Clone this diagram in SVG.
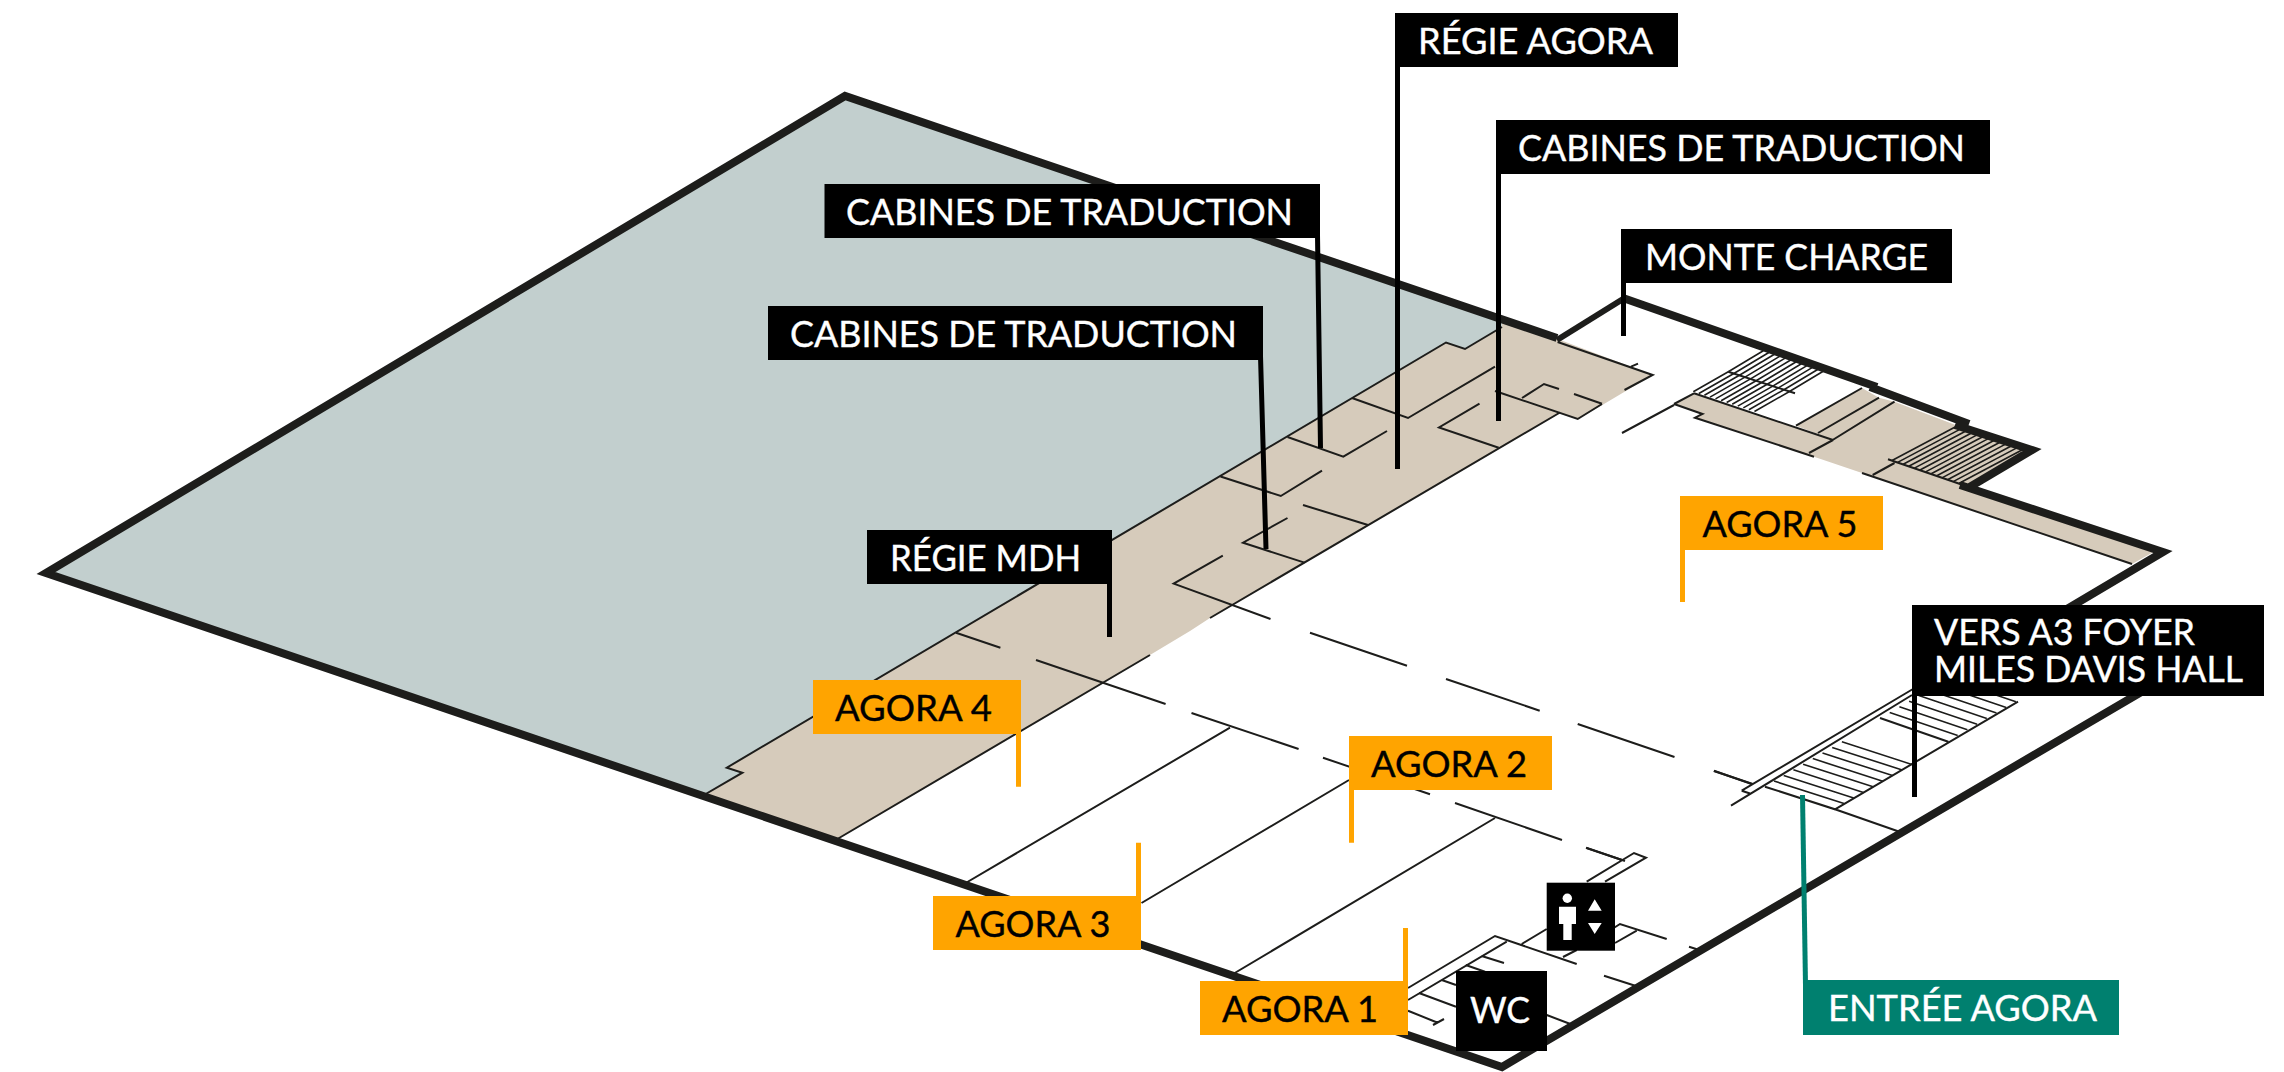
<svg xmlns="http://www.w3.org/2000/svg" width="2284" height="1072" viewBox="0 0 2284 1072">
<style>
.t{font-family:"Lato","Liberation Sans",sans-serif;font-size:36.5px;font-weight:400;stroke-width:.4}
.w{fill:#fff;stroke:#fff}.b{fill:#000;stroke:#000}
.k{fill:#000}.o{fill:#ffa400}.g{fill:#00806f}
.l{fill:none;stroke:#1d1d1b;stroke-width:2}
.h{fill:none;stroke:#1d1d1b;stroke-width:1.6}
.wall{fill:none;stroke:#1d1d1b;stroke-width:8;stroke-linejoin:miter;stroke-miterlimit:10}
.wall2{fill:none;stroke:#1d1d1b;stroke-width:6}
.pk{stroke:#000;stroke-width:5;fill:none}.po{stroke:#ffa400;stroke-width:5;fill:none}.pg{stroke:#00806f;stroke-width:5;fill:none}
</style>
<rect width="2284" height="1072" fill="#fff"/>
<g id="floor">
<polygon fill="#c2cfce" points="845,96 46,573 704,795 742.4,772.7 726.8,767.7 1446,342.5 1465,349 1502,327 1510,320"/>
<polygon fill="#d6cbbb" points="704,795 742.4,772.7 726.8,767.7 1446,342.5 1465,349 1502,327 1502,320 1557.6,339 1652.7,375 1604,404 1577.7,419 1560,412.5 1210,618 1190,631 1150,655 834,841"/>
<polygon fill="#d6cbbb" points="1674,404 1694,393.3 1833,440 1796,425.7 1862,388 1879,397.7 1894.5,401.7 1955.6,425 2030,450 1968,487 2154,551.7 2132,564 1862,473 1814,456.7 1695,417.7 1702.5,414"/>
<polygon fill="#fff" points="1694,393.3 1728,371 1766,351 1862,388 1796,425.7"/>
<g class="l">
<path d="M1502,327 1465,349 1446,342.5 726.8,767.7 742.4,772.7 704,795"/>
<path d="M1560,412.5 1210,618M1150,655 834,841"/>
<path d="M1557.6,342 1652.7,375 1624.5,390M1631,366.6 1638,363.6"/>
<path d="M1602,404 1577.7,419 1495,391"/>
<path d="M1522,398 1544,384 1559,389M1574,394 1602,403.7"/>
<path d="M1352,398 1408,418 1495,366.6"/>
<path d="M1287.5,437 1343.3,456.6 1387,431"/>
<path d="M1220.5,476.5 1280.8,496 1322,470.7"/>
<path d="M1303,505 1368,525"/>
<path d="M1287.5,518 1243,542.7 1304.5,562.6"/>
<path d="M1222.8,555.7 1173.7,583.6 1270.5,619"/>
<path d="M1479.5,403.7 1439,427.5 1498.7,447.8"/>
<path d="M956,632.7 1000.4,647.7M1036,660 1165.6,704M1191.5,713 1298.6,749M1323,757.7 1430,794.3M1455,803 1562,840M1586.6,848 1622,860"/>
<path d="M1310,632.7 1407,665.7M1446,679 1539.7,710.7M1577.7,724 1674.5,757M1713.8,771 1752.7,784"/>
<path d="M1230,727.7 964,884M1349,780 1141.5,903M1495,818 1228,977"/>
<path d="M1586.7,881.7 1634,853 1646,857.7 1605,881.7M1586,847.7 1625,861"/>
<path d="M1408,988 1495,936 1576.7,964M1408,1000 1506.7,941.7M1521.7,944 1546.7,929M1563,957 1576.7,950"/>
<path d="M1600,936.7 1620,924 1666.7,939M1636.7,930.7 1615,943M1689,946.7 1701.7,950.7"/>
<path d="M1604,975.7 1638.3,986.7M1546.7,1015 1573,1025M1546,1038 1550,1040"/>
<path d="M1481.7,956 1504,963M1465.7,965 1485,971.7M1441.7,980 1456,985M1419,993 1456,1006.7M1408,1010.7 1438.3,1023M1433,1025 1444,1019"/>
<path d="M1694,393.3 1833,440M1728.3,371.7 1795,393.3M1674,404 1694,393.3M1674,404 1702.5,414 1695,417.7 1814,456.7M1674,405 1622,433"/>
<path d="M1796,425.7 1862,388M1818,433 1879,397.7M1831,441 1894.5,401.7M1833,440 1809,453"/>
<path d="M1888,459.3 1963,485M1894.5,463 1872.7,475M1862,473 2132,564"/>
<path d="M1741.7,790.7 1913,689M1741.7,790.7 1750,793.5M1731,805.7 1912,695M1714,770.7 1751.7,784"/>
<path d="M1765,786.7 1835,809.3 2018,701.7M1835,809.3 1903,833M1880,718 1948.3,741.7"/>
</g>
<path class="h" d="M1728.3,371.7l35-21m-29.44 22.8l35-21m-29.44 22.8l35-21m-29.44 22.8l35-21m-29.44 22.8l35-21m-29.44 22.8l35-21m-29.44 22.8l35-21m-29.44 22.8l35-21m-29.44 22.8l35-21m-29.44 22.8l35-21m-29.44 22.8l35-21m-29.44 22.8l35-21"/>
<path class="h" d="M1693.3,391.7l35-20m-29.44 21.8l35-20m-29.44 21.8l35-20m-29.44 21.8l35-20m-29.44 21.8l35-20m-29.44 21.8l35-20m-29.44 21.8l35-20m-29.44 21.8l35-20m-29.44 21.8l35-20m-29.44 21.8l35-20m-29.44 21.8l35-20m-29.44 21.8l35-20"/>
<path class="h" d="M1892,460.5l66-35m-60.4 36.9l66-35m-60.4 36.9l66-35m-60.4 36.9l66-35m-60.4 36.9l66-35m-60.4 36.9l66-35m-60.4 36.9l66-35m-60.4 36.9l66-35m-60.4 36.9l66-35m-60.4 36.9l66-35m-60.4 36.9l66-35m-60.4 36.9l66-35m-60.4 36.9l66-35"/>
<path class="h" d="M1774,781l70,22.6m-60.3-28.2l70,22.6m-60.3-28.2l70,22.6m-60.3-28.2l70,22.6m-60.3-28.2l70,22.6m-60.3-28.2l70,22.6m-60.3-28.2l70,22.6m-60.3-28.2l70,22.6"/>
<path class="h" d="M1889.7,712.4l68,23m-58.3-28.6l68,23m-58.3-28.6l68,23m-58.3-28.6l68,23m-58.3-28.6l68,23m-58.3-28.6l68,23m-58.3-28.6l68,23"/>
<path class="wall" d="M1557,338 845,96 46,573 1502,1067 2172,674"/>
<path class="wall2" d="M1557,340 1623,299"/>
<path class="wall" d="M1623,298 1877,387M1870,387 1969,424M1955,425 2032,450 1968,488M1960,485 2163,552 2040,625"/>
</g>
<g id="connectors">
<path class="pk" d="M1397.5,60V469M1498.5,170V421M1623.5,280V336M1317.5,235 1320.5,448M1260.5,356 1266,549M1109.5,580V637M1914.5,690V797"/>
<path class="po" d="M1018.5,730V786.7M1138.5,842.7V900M1351.5,786V842.7M1405.5,928V985M1682.5,546V602"/>
<path class="pg" d="M1802.5,795 1805.5,985"/>
</g>
<g id="regie-agora"><rect class="k" x="1395" y="13" width="283" height="54"/><text class="t w" x="1418" y="53.6" textLength="235" lengthAdjust="spacingAndGlyphs">RÉGIE AGORA</text></g>
<g id="cabines-2"><rect class="k" x="1496" y="120" width="494" height="54"/><text class="t w" x="1518" y="160.5" textLength="447" lengthAdjust="spacingAndGlyphs">CABINES DE TRADUCTION</text></g>
<g id="cabines-1"><rect class="k" x="824.5" y="184" width="495.5" height="54"/><text class="t w" x="846" y="224.5" textLength="447" lengthAdjust="spacingAndGlyphs">CABINES DE TRADUCTION</text></g>
<g id="cabines-3"><rect class="k" x="768" y="306" width="495" height="54"/><text class="t w" x="790" y="346.5" textLength="447" lengthAdjust="spacingAndGlyphs">CABINES DE TRADUCTION</text></g>
<g id="monte-charge"><rect class="k" x="1621" y="229" width="331" height="54"/><text class="t w" x="1645" y="269.5" textLength="283" lengthAdjust="spacingAndGlyphs">MONTE CHARGE</text></g>
<g id="regie-mdh"><rect class="k" x="867" y="530" width="245" height="54"/><text class="t w" x="890" y="570.5" textLength="191" lengthAdjust="spacingAndGlyphs">RÉGIE MDH</text></g>
<g id="vers-a3"><rect class="k" x="1912" y="605" width="352" height="91"/><text class="t w"><tspan x="1934" y="645" textLength="261" lengthAdjust="spacingAndGlyphs">VERS A3 FOYER</tspan><tspan x="1934" y="682" textLength="309" lengthAdjust="spacingAndGlyphs">MILES DAVIS HALL</tspan></text></g>
<g id="agora-5"><rect class="o" x="1680" y="496" width="203" height="54"/><text class="t b" x="1702.5" y="536.5" textLength="155" lengthAdjust="spacingAndGlyphs">AGORA 5</text></g>
<g id="agora-4"><rect class="o" x="813" y="680" width="208" height="54"/><text class="t b" x="835" y="720.5" textLength="157" lengthAdjust="spacingAndGlyphs">AGORA 4</text></g>
<g id="agora-2"><rect class="o" x="1349" y="736" width="203" height="54"/><text class="t b" x="1371" y="776.5" textLength="156" lengthAdjust="spacingAndGlyphs">AGORA 2</text></g>
<g id="agora-3"><rect class="o" x="933" y="896" width="208" height="54"/><text class="t b" x="955.5" y="936.5" textLength="155" lengthAdjust="spacingAndGlyphs">AGORA 3</text></g>
<g id="agora-1"><rect class="o" x="1200" y="981" width="208" height="54"/><text class="t b" x="1222" y="1021.5" textLength="156" lengthAdjust="spacingAndGlyphs">AGORA 1</text></g>
<g id="wc"><rect class="k" x="1456" y="971" width="91" height="80"/><text class="t w" x="1470" y="1023" textLength="60" lengthAdjust="spacingAndGlyphs">WC</text></g>
<g id="ascenseur"><rect class="k" x="1546.7" y="882.7" width="68.3" height="68"/>
<g fill="#fff"><circle cx="1567.3" cy="898.3" r="4.7"/><path d="M1559,906.7H1576V924H1571.7V940H1563.3V924H1559Z"/><path d="M1594.7,899.3 1601.7,910.7H1588ZM1588,923H1601.7L1594.7,934Z"/></g></g>
<g id="entree-agora"><rect class="g" x="1803" y="980" width="316" height="55"/><text class="t w" x="1828" y="1021" textLength="269" lengthAdjust="spacingAndGlyphs">ENTRÉE AGORA</text></g>
</svg>
